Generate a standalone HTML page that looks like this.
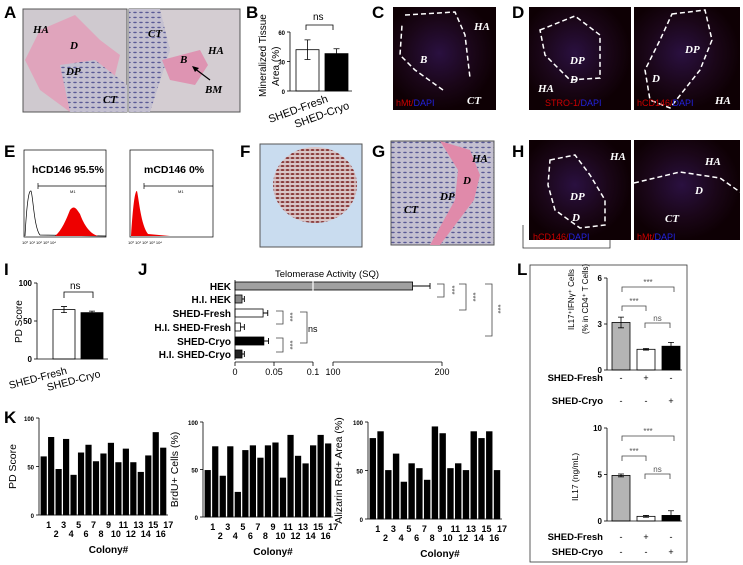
<!DOCTYPE html>
<html><head><meta charset="utf-8">
<style>
html,body{margin:0;padding:0;background:#fff;}
svg{display:block;font-family:"Liberation Sans",Arial,sans-serif;}
.pl{font-weight:bold;font-size:17px;}
.it{font-family:"Liberation Serif",serif;font-style:italic;font-weight:bold;}
</style></head>
<body>
<svg id="fig" width="743" height="565" viewBox="0 0 743 565" xmlns="http://www.w3.org/2000/svg">
<defs>
<pattern id="cells" width="6" height="5" patternUnits="userSpaceOnUse"><rect width="6" height="5" fill="#c4c0d0"/><ellipse cx="3" cy="2.5" rx="1.8" ry="0.7" fill="#5a5a96"/></pattern>
<pattern id="rcells" width="5" height="4" patternUnits="userSpaceOnUse"><rect width="5" height="4" fill="#d9c6c8"/><ellipse cx="2.5" cy="2" rx="2" ry="1" fill="#8a3a3a"/></pattern>
<radialGradient id="fl" cx="45%" cy="45%" r="55%"><stop offset="0" stop-color="#2a1040"/><stop offset="0.6" stop-color="#1a0618"/><stop offset="1" stop-color="#0e0004"/></radialGradient>
</defs>

<g>
<text class="pl" x="4" y="18">A</text><text class="pl" x="246" y="18">B</text>
<text class="pl" x="372" y="18">C</text><text class="pl" x="512" y="18">D</text>
<text class="pl" x="4" y="157">E</text><text class="pl" x="240" y="157">F</text>
<text class="pl" x="372" y="157">G</text><text class="pl" x="512" y="157">H</text>
<text class="pl" x="4" y="275">I</text><text class="pl" x="138" y="275">J</text>
<text class="pl" x="517" y="275">L</text><text class="pl" x="4" y="423">K</text>
</g>

<g>
<rect x="23" y="9" width="104" height="103" fill="#cfc9cf" stroke="#555"/>
<path d="M40,30 L75,15 L100,40 L120,55 L115,75 L127,90 L127,112 L70,112 L40,90 L25,60 Z" fill="#e0a4bc"/>
<path d="M60,65 L95,60 L127,85 L127,112 L70,112 Z" fill="url(#cells)"/>
<rect x="129" y="9" width="111" height="103" fill="#d4cdd2" stroke="#555"/>
<path d="M129,9 L160,9 L170,50 L150,112 L129,112 Z" fill="url(#cells)"/>
<path d="M162,60 L200,50 L208,65 L195,85 L170,80 Z" fill="#de94b2"/>
<text class="it" x="33" y="33" font-size="11">HA</text><text class="it" x="70" y="49" font-size="11">D</text>
<text class="it" x="66" y="75" font-size="11">DP</text><text class="it" x="103" y="103" font-size="11">CT</text>
<text class="it" x="148" y="37" font-size="11">CT</text><text class="it" x="180" y="63" font-size="11">B</text>
<text class="it" x="208" y="54" font-size="11">HA</text><text class="it" x="205" y="93" font-size="11">BM</text>
<line x1="210" y1="80" x2="194" y2="68" stroke="#000" stroke-width="1.2"/><path d="M192,66 L199,68 L195,72Z" fill="#000"/>
</g>

<g id="chartB">
<text font-size="10" transform="translate(266,97) rotate(-90)">Mineralized Tissue</text>
<text font-size="10" transform="translate(279,86) rotate(-90)">Area  (%)</text>
<text font-size="10" x="313" y="20">ns</text>
<path d="M306,30 V25 H333 V30" fill="none" stroke="#000" stroke-width="0.8"/>
<text font-size="11" transform="translate(270,123) rotate(-20)">SHED-Fresh</text>
<text font-size="11" transform="translate(296,128) rotate(-20)">SHED-Cryo</text>
</g>

<g>
<rect x="393" y="7" width="103" height="103" fill="url(#fl)"/>
<path d="M405,15 L455,12 L465,35 L470,78 M443,90 L415,70 L400,55 L402,25" fill="none" stroke="#fff" stroke-width="1.5" stroke-dasharray="5,3"/>
<text class="it" x="474" y="30" font-size="11" fill="#fff">HA</text><text class="it" x="420" y="63" font-size="11" fill="#fff">B</text>
<text class="it" x="467" y="104" font-size="11" fill="#fff">CT</text>
<text x="396" y="106" font-size="9" fill="#c00">hMt/<tspan fill="#22d">DAPI</tspan></text>
</g>

<g>
<rect x="529" y="7" width="102" height="103" fill="url(#fl)"/>
<rect x="634" y="7" width="106" height="103" fill="url(#fl)"/>
<path d="M540,30 L575,16 L600,35 L600,78 L570,80 L545,55 Z" fill="none" stroke="#fff" stroke-width="1.5" stroke-dasharray="5,3"/>
<path d="M672,14 L705,10 L712,40 L700,70 L670,108 L650,100 L645,70 L660,40 Z" fill="none" stroke="#fff" stroke-width="1.5" stroke-dasharray="5,3"/>
<text class="it" x="570" y="64" font-size="11" fill="#fff">DP</text><text class="it" x="570" y="83" font-size="11" fill="#fff">D</text>
<text class="it" x="538" y="92" font-size="11" fill="#fff">HA</text>
<text class="it" x="685" y="53" font-size="11" fill="#fff">DP</text><text class="it" x="652" y="82" font-size="11" fill="#fff">D</text>
<text class="it" x="715" y="104" font-size="11" fill="#fff">HA</text>
<text x="545" y="106" font-size="9" fill="#c00">STRO-1/<tspan fill="#22d">DAPI</tspan></text>
<text x="637" y="106" font-size="9" fill="#c00">hCD146/<tspan fill="#22d">DAPI</tspan></text>
</g>

<g>
<g fill="none" stroke="#000" stroke-width="0.7">
<rect x="24" y="150" width="82" height="87"/><rect x="130" y="150" width="83" height="87"/>
<path d="M38,186 H106 M38,183 V189"/><path d="M144,186 H213 M144,183 V189"/>
<path d="M25,236 C27,200 29,190 31,191 C33,195 34,228 40,235 L106,236"/>
</g>
<path d="M55,236 C62,230 66,220 70,210 C74,205 76,208 80,214 C84,225 90,234 98,236 Z" fill="#e00"/>
<path d="M131,236 C133,205 135,190 137,191 C139,200 141,225 148,234 L170,236 Z" fill="#e00"/>
<text x="32" y="173" font-size="10.5" font-weight="bold">hCD146  95.5%</text>
<text x="144" y="173" font-size="10.5" font-weight="bold">mCD146  0%</text>
<text x="70" y="193" font-size="4">M1</text><text x="178" y="193" font-size="4">M1</text>
<text x="22" y="244" font-size="4">10⁰      10¹       10²       10³       10⁴</text>
<text x="128" y="244" font-size="4">10⁰      10¹       10²       10³       10⁴</text>
</g>

<g>
<rect x="260" y="144" width="102" height="103" fill="#c9dcef" stroke="#555"/>
<ellipse cx="315" cy="185" rx="42" ry="38" fill="url(#rcells)"/>
</g>

<g>
<rect x="391" y="141" width="103" height="104" fill="url(#cells)" stroke="#555"/>
<path d="M440,141 L470,150 L480,175 L474,200 L440,245 L430,245 L455,200 L458,170 Z" fill="#e08aaa"/>
<text class="it" x="472" y="162" font-size="11">HA</text><text class="it" x="463" y="184" font-size="11">D</text>
<text class="it" x="440" y="200" font-size="11">DP</text><text class="it" x="404" y="213" font-size="11">CT</text>
</g>

<g>
<rect x="529" y="140" width="102" height="100" fill="url(#fl)"/>
<rect x="634" y="140" width="106" height="100" fill="url(#fl)"/>
<path d="M550,160 L575,155 L590,175 L605,200 L605,225 L580,228 L555,210 L548,185 Z" fill="none" stroke="#fff" stroke-width="1.5" stroke-dasharray="5,3"/>
<path d="M634,183 L680,172 L720,178 L740,192" fill="none" stroke="#fff" stroke-width="1.5" stroke-dasharray="5,3"/>
<text class="it" x="610" y="160" font-size="11" fill="#fff">HA</text><text class="it" x="570" y="200" font-size="11" fill="#fff">DP</text>
<text class="it" x="572" y="221" font-size="11" fill="#fff">D</text>
<text class="it" x="705" y="165" font-size="11" fill="#fff">HA</text><text class="it" x="695" y="194" font-size="11" fill="#fff">D</text>
<text class="it" x="665" y="222" font-size="11" fill="#fff">CT</text>
<text x="533" y="240" font-size="9" fill="#c00">hCD146/<tspan fill="#22d">DAPI</tspan></text>
<text x="637" y="240" font-size="9" fill="#c00">hMt/<tspan fill="#22d">DAPI</tspan></text>
<path d="M523,225 V248 H610 V240" fill="none" stroke="#333" stroke-width="0.8"/>
</g>

<g id="chartI">
<text font-size="10" transform="translate(22,343) rotate(-90)">PD Score</text>
<text font-size="10" x="70" y="289">ns</text>
<path d="M64,298 V292 H93 V298" fill="none" stroke="#000" stroke-width="0.8"/>
<text font-size="10.5" transform="translate(10,389) rotate(-15)">SHED-Fresh</text>
<text font-size="10.5" transform="translate(48,391) rotate(-15)">SHED-Cryo</text>
</g>

<g id="chartJ">
<text font-size="9.5" x="275" y="277">Telomerase Activity (SQ)</text>
<text font-size="9" x="308" y="332">ns</text>
</g>

<g id="chartK"></g>

<rect x="530" y="265" width="157" height="297" fill="none" stroke="#333" stroke-width="0.8"/>
<g id="chartL">
<text font-size="8" transform="translate(574,330) rotate(-90)">IL17⁺IFNγ⁺ Cells</text>
<text font-size="8" transform="translate(588,334) rotate(-90)">(% in CD4⁺ T Cells)</text>
<text font-size="8.5" transform="translate(578,501) rotate(-90)">IL17 (ng/mL)</text>
</g>
</svg>

<script>
const bCats = ["SHED-Fresh","SHED-Cryo"];
const bVals = [42, 38];
const bErr = [10, 5];
const bTicks = [0, 30, 60];

const iCats = ["SHED-Fresh","SHED-Cryo"];
const iVals = [65, 61];
const iErr = [4, 2];
const iTicks = [0, 50, 100];

const jCats = ["HEK","H.I. HEK","SHED-Fresh","H.I. SHED-Fresh","SHED-Cryo","H.I. SHED-Cryo"];
const jVals = [173, 0.009, 0.036, 0.007, 0.037, 0.009];
const jErr = [16, 0.003, 0.006, 0.005, 0.006, 0.003];
const jTicksLow = [0, 0.05, 0.1];
const jTicksHigh = [100, 200];

const kPD = [60,80,47,78,41,64,72,55,63,74,54,68,54,44,61,85,69];
const kBrdU = [49,74,43,74,26,70,75,62,75,78,41,86,64,56,75,86,77];
const kAliz = [83,90,50,67,38,57,52,40,95,88,52,57,50,90,83,90,50];
const kColonies = ["1","2","3","4","5","6","7","8","9","10","11","12","13","14","15","16","17"];
const kTicks = [0, 50, 100];

const lCats = ["Control","SHED-Fresh","SHED-Cryo"];
const lCells = [3.1, 1.35, 1.55];
const lCellsErr = [0.35, 0.05, 0.25];
const lCellsTicks = [0, 3, 6];
const lIL17 = [4.9, 0.5, 0.6];
const lIL17Err = [0.15, 0.1, 0.5];
const lIL17Ticks = [0, 5, 10];

const NS = "http://www.w3.org/2000/svg";
function mk(parent, tag, attrs, txt){
  const e = document.createElementNS(NS, tag);
  for (const k in attrs) e.setAttribute(k, attrs[k]);
  if (txt !== undefined) e.textContent = txt;
  parent.appendChild(e);
  return e;
}
function lin(d0,d1,r0,r1){ return v => r0 + (v-d0)/(d1-d0)*(r1-r0); }

function vAxis(g, x, y, ticks, fs){
  const ax = mk(g,'line',{x1:x,x2:x,y1:y(ticks[ticks.length-1]),y2:y(ticks[0]),stroke:'#000','stroke-width':0.8});
  
  
  ticks.forEach(t=>{
    mk(g,'line',{x1:x-3,x2:x,y1:y(t),y2:y(t),stroke:'#000','stroke-width':0.8});
    const tl = mk(g,'text',{x:x-5,y:y(t)+3,'font-size':fs||7,'font-weight':'bold','text-anchor':'end'},String(t));
    
    
  });
}
function vBars(g, vals, errs, x0, bw, gap, y, fills, name){
  vals.forEach((v,i)=>{
    const x = x0 + i*(bw+gap);
    const r = mk(g,'rect',{x:x,y:y(v),width:bw,height:y(0)-y(v),fill:fills[i%fills.length],stroke:'#000','stroke-width':0.8});
    
    
    if (errs){
      const cx = x+bw/2;
      mk(g,'path',{d:`M${cx},${y(v-errs[i])} V${y(v+errs[i])} M${cx-3},${y(v+errs[i])} H${cx+3} M${cx-3},${y(v-errs[i])} H${cx+3}`,stroke:'#000','stroke-width':0.8,fill:'none'});
    }
  });
}

(function(){
  const g = document.getElementById('chartB');
  const y = lin(0,60,91,32);
  vBars(g,bVals,bErr,296,23,6,y,['#fff','#000'],'b');
  vAxis(g,290,y,bTicks,6);
  mk(g,'line',{x1:290,x2:352,y1:91,y2:91,stroke:'#000','stroke-width':0.8});
})();

(function(){
  const g = document.getElementById('chartI');
  const y = lin(0,100,359,283);
  vBars(g,iVals,iErr,53,22,6,y,['#fff','#000'],'i');
  vAxis(g,37,y,iTicks,8);
  mk(g,'line',{x1:37,x2:108,y1:359,y2:359,stroke:'#000','stroke-width':0.8});
})();

(function(){
  const g = document.getElementById('chartJ');
  const xl = lin(0,0.1,235,313), xh = lin(100,200,333,442);
  const xv = v => v<=0.1 ? xl(v) : xh(v);
  const rowY = [286,299,313,327,341,354];
  const fills = ['#a0a0a0','#888','#fff','#fff','#000','#222'];
  jVals.forEach((v,i)=>{
    const yc = rowY[i];
    const r = mk(g,'rect',{x:235,y:yc-4,width:xv(v)-235,height:8,fill:fills[i],stroke:'#000','stroke-width':0.8});
    
    
    const e0 = xv(v), e1 = xv(v+jErr[i]);
    mk(g,'path',{d:`M${e0},${yc} H${e1} M${e1},${yc-3} V${yc+3}`,stroke:'#000','stroke-width':0.9,fill:'none'});
    const lb = mk(g,'text',{x:231,y:yc+4,'font-size':10,'font-weight':'bold','text-anchor':'end'},jCats[i]);
    
    
  });
  mk(g,'line',{x1:313,x2:313,y1:281,y2:291,stroke:'#fff','stroke-width':1.2});
  mk(g,'line',{x1:235,x2:235,y1:280,y2:360,stroke:'#000','stroke-width':0.8});
  mk(g,'line',{x1:235,x2:313,y1:362,y2:362,stroke:'#000','stroke-width':0.8});
  mk(g,'line',{x1:333,x2:442,y1:362,y2:362,stroke:'#000','stroke-width':0.8});
  jTicksLow.forEach(t=>{ mk(g,'line',{x1:xl(t),x2:xl(t),y1:362,y2:366,stroke:'#000','stroke-width':0.8});
    mk(g,'text',{x:xl(t),y:375,'font-size':9,'text-anchor':'middle'},String(t)); });
  jTicksHigh.forEach(t=>{ mk(g,'line',{x1:xh(t),x2:xh(t),y1:362,y2:366,stroke:'#000','stroke-width':0.8});
    mk(g,'text',{x:xh(t),y:375,'font-size':9,'text-anchor':'middle'},String(t)); });
  const br = (x,y1,y2,w)=>mk(g,'path',{d:`M${x},${y1} H${x+w} V${y2} H${x}`,fill:'none',stroke:'#444','stroke-width':0.8});
  const st = (x,ym)=>mk(g,'text',{x:x,y:ym,'font-size':8,fill:'#555','text-anchor':'middle',transform:`rotate(90 ${x} ${ym})`},'***');
  br(437,284,297,7); st(449,290);
  br(459,284,310,7); st(470,297);
  br(485,284,336,7); st(495,309);
  br(276,311,324,7); st(287,317);
  br(276,338,352,7); st(287,345);
  br(300,312,343,7);
})();

(function(){
  const g = document.getElementById('chartK');
  const sets = [
    {vals:kPD, ax:39, top:418, bot:515, right:168, lab:'PD Score', name:'k-pd', lx:16},
    {vals:kBrdU, ax:203, top:422, bot:517, right:333, lab:'BrdU+ Cells (%)', name:'k-brdu', lx:178},
    {vals:kAliz, ax:368, top:422, bot:519, right:502, lab:'Alizarin Red+ Area (%)', name:'k-alizarin', lx:342}
  ];
  sets.forEach(s=>{
    const y = lin(0,100,s.bot,s.top);
    const step = (s.right - s.ax - 2)/s.vals.length;
    vBars(g,s.vals,null,s.ax+2,step*0.72,step*0.28,y,['#000'],s.name);
    vAxis(g,s.ax,y,kTicks,6);
    mk(g,'line',{x1:s.ax,x2:s.right,y1:s.bot,y2:s.bot,stroke:'#000','stroke-width':0.8});
    const mid = (s.top+s.bot)/2;
    mk(g,'text',{x:s.lx,y:mid,'font-size':10.5,'text-anchor':'middle',transform:`rotate(-90 ${s.lx} ${mid})`},s.lab);
    kColonies.forEach((c,i)=>{
      const cx = s.ax+2+step*i+step*0.36 + 5;
      mk(g,'text',{x:cx,y: i%2===0 ? s.bot+13 : s.bot+22,'font-size':9,'font-weight':'bold','text-anchor':'middle'},c);
    });
    mk(g,'text',{x:(s.ax+s.right)/2+5,y:s.bot+38,'font-size':10,'font-weight':'bold','text-anchor':'middle'},'Colony#');
  });
})();

(function(){
  const g = document.getElementById('chartL');
  const fills = ['#b4b4b4','#fff','#000'];
  const draw = (vals,errs,ticks,top,bot,name,rowY)=>{
    const y = lin(ticks[0],ticks[2],bot,top);
    vBars(g,vals,errs,612,18,7,y,fills,name);
    vAxis(g,607,y,ticks,8);
    mk(g,'line',{x1:607,x2:682,y1:bot,y2:bot,stroke:'#000','stroke-width':0.8});
    [['-','+','-'],['-','-','+']].forEach((row,ri)=>{
      mk(g,'text',{x:603,y:rowY[ri],'font-size':9.5,'font-weight':'bold','text-anchor':'end'},ri===0?'SHED-Fresh':'SHED-Cryo');
      row.forEach((s,ci)=>mk(g,'text',{x:621+ci*25,y:rowY[ri],'font-size':9,'text-anchor':'middle'},s));
    });
  };
  draw(lCells,lCellsErr,lCellsTicks,278,370,'l-cells',[381,404]);
  draw(lIL17,lIL17Err,lIL17Ticks,428,521,'l-il17',[540,555]);
  const br=(x1,x2,yy,t)=>{ mk(g,'path',{d:`M${x1},${yy+5} V${yy} H${x2} V${yy+5}`,fill:'none',stroke:'#444','stroke-width':0.8});
    mk(g,'text',{x:(x1+x2)/2,y:yy-2,'font-size':8,fill:'#555','text-anchor':'middle'},t); };
  br(622,674,287,'***'); br(622,646,306,'***'); br(645,670,323,'ns');
  br(622,674,436,'***'); br(622,646,456,'***'); br(645,670,474,'ns');
})();
</script>
</body></html>
